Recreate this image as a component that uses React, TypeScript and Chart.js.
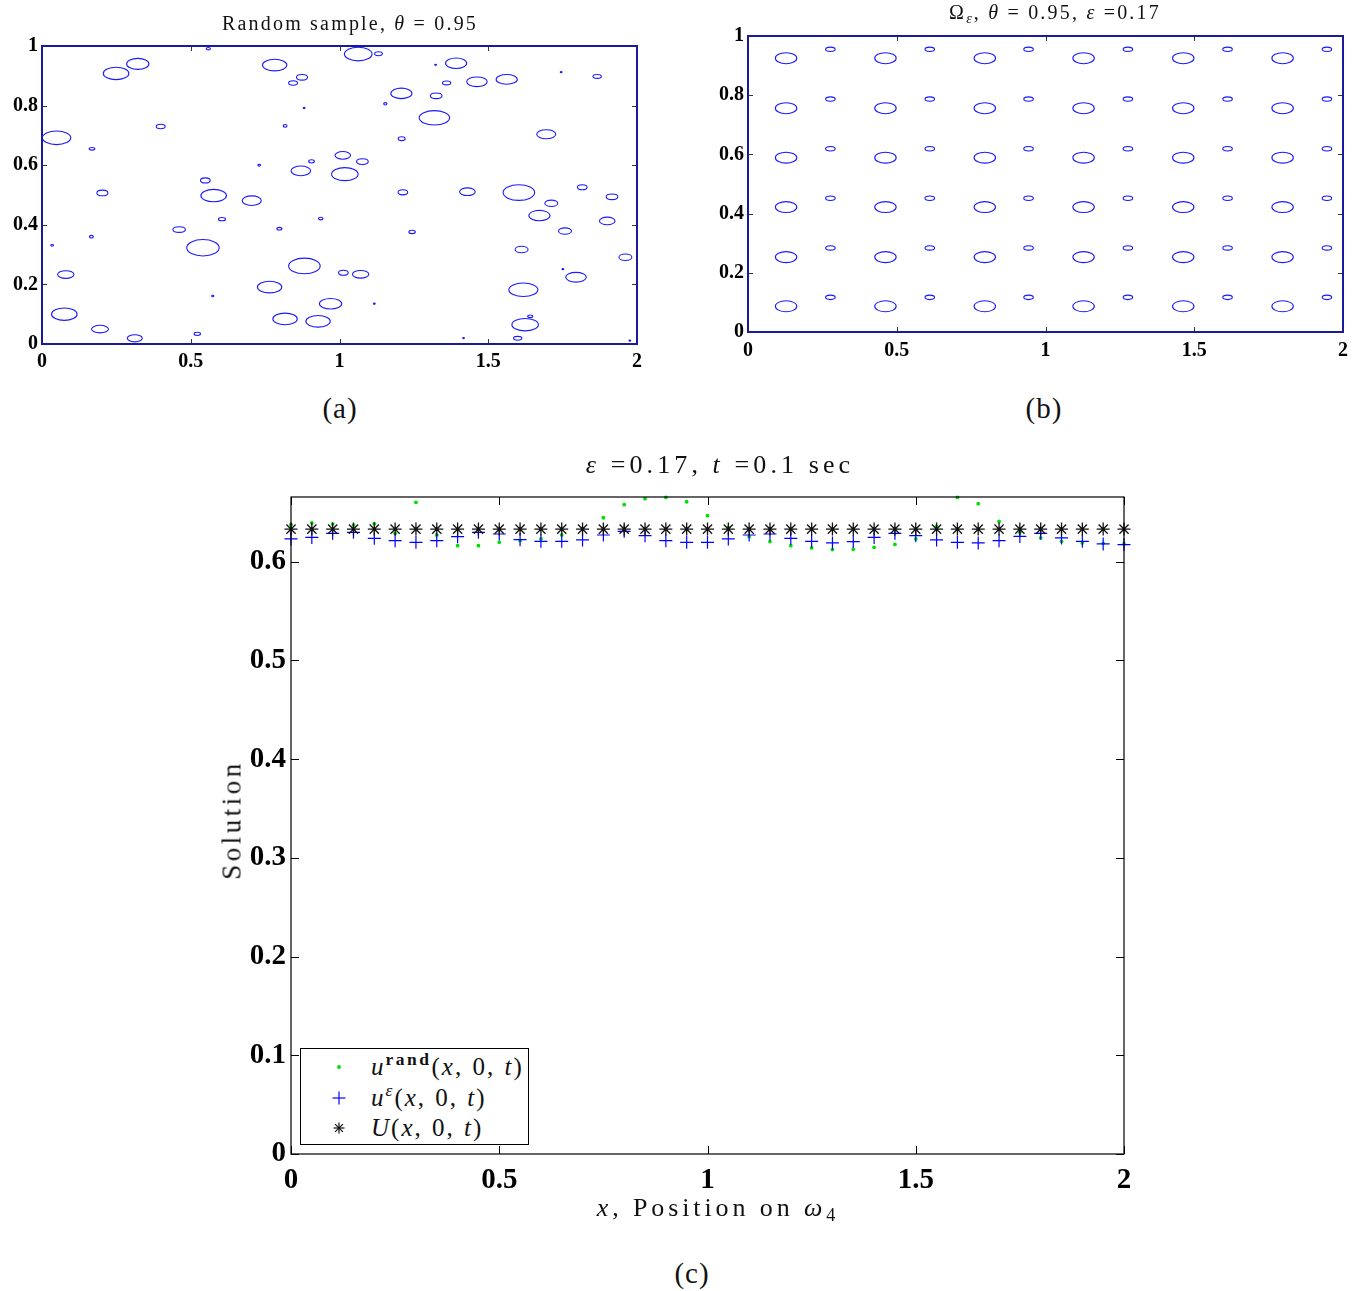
import React, { useEffect, useRef } from "react";
import Chart from "chart.js/auto";

const SERIF = "'Liberation Serif', 'Times New Roman', serif";

// ---------- (a) random inclusions: centres and semi-axes, domain units ----------
const RAND_X = [
  0.559, 0.249, 0.322, 0.782, 0.874, 0.844, 0.881, 0.399, 0.817, 0.049,
  0.168, 0.730, 0.906, 0.870, 1.011, 1.018, 0.203, 0.549, 0.577, 0.705,
  1.063, 1.131, 1.323, 1.392, 1.360, 1.462, 1.562, 1.745, 1.866, 1.208,
  1.325, 1.154, 1.319, 1.209, 1.695, 1.077, 1.213, 1.430, 1.603, 1.712,
  1.816, 1.916, 0.605, 0.461, 0.798, 0.937, 0.034, 0.166, 0.541, 0.882,
  1.013, 0.080, 0.574, 0.765, 0.970, 0.075, 0.195, 0.817, 0.928, 0.312,
  0.522, 1.244, 1.071, 1.117, 1.672, 1.758, 1.900, 1.612, 1.961, 1.751,
  1.795, 1.618, 1.641, 1.624, 1.599, 1.417, 1.976,
];
const RAND_Y = [
  0.991, 0.908, 0.940, 0.936, 0.895, 0.876, 0.792, 0.730, 0.732, 0.692,
  0.655, 0.600, 0.613, 0.581, 0.633, 0.570, 0.507, 0.549, 0.498, 0.481,
  0.973, 0.974, 0.937, 0.942, 0.876, 0.880, 0.888, 0.912, 0.898, 0.841,
  0.833, 0.806, 0.759, 0.689, 0.704, 0.612, 0.509, 0.511, 0.508, 0.472,
  0.526, 0.494, 0.419, 0.384, 0.387, 0.421, 0.331, 0.360, 0.323, 0.262,
  0.239, 0.233, 0.161, 0.191, 0.135, 0.100, 0.050, 0.084, 0.076, 0.019,
  0.034, 0.376, 0.234, 0.135, 0.431, 0.379, 0.413, 0.317, 0.291, 0.251,
  0.224, 0.182, 0.093, 0.065, 0.019, 0.020, 0.011,
];
const RAND_RX = [
  0.0070, 0.0430, 0.0375, 0.0410, 0.0185, 0.0150, 0.0030, 0.0150, 0.0065, 0.0478,
  0.0095, 0.0045, 0.0095, 0.0330, 0.0262, 0.0445, 0.0185, 0.0162, 0.0430, 0.0320,
  0.0465, 0.0130, 0.0030, 0.0355, 0.0140, 0.0345, 0.0355, 0.0030, 0.0140, 0.0355,
  0.0196, 0.0055, 0.0512, 0.0118, 0.0320, 0.0196, 0.0162, 0.0262, 0.0530, 0.0218,
  0.0162, 0.0196, 0.0118, 0.0210, 0.0085, 0.0075, 0.0045, 0.0065, 0.0545, 0.0530,
  0.0162, 0.0275, 0.0035, 0.0410, 0.0375, 0.0430, 0.0285, 0.0410, 0.0410, 0.0252,
  0.0108, 0.0108, 0.0275, 0.0030, 0.0355, 0.0218, 0.0262, 0.0218, 0.0218, 0.0030,
  0.0345, 0.0488, 0.0085, 0.0445, 0.0140, 0.0030, 0.0030,
];
const RAND_RY = [
  0.0040, 0.0208, 0.0185, 0.0195, 0.0095, 0.0075, 0.0020, 0.0075, 0.0045, 0.0228,
  0.0045, 0.0030, 0.0055, 0.0162, 0.0128, 0.0218, 0.0095, 0.0085, 0.0208, 0.0162,
  0.0228, 0.0065, 0.0020, 0.0175, 0.0065, 0.0162, 0.0162, 0.0020, 0.0065, 0.0175,
  0.0095, 0.0040, 0.0242, 0.0065, 0.0152, 0.0095, 0.0085, 0.0128, 0.0262, 0.0108,
  0.0085, 0.0095, 0.0055, 0.0095, 0.0045, 0.0045, 0.0030, 0.0045, 0.0275, 0.0262,
  0.0085, 0.0128, 0.0025, 0.0195, 0.0175, 0.0208, 0.0128, 0.0195, 0.0195, 0.0118,
  0.0055, 0.0055, 0.0128, 0.0020, 0.0175, 0.0108, 0.0128, 0.0108, 0.0108, 0.0020,
  0.0162, 0.0228, 0.0045, 0.0208, 0.0065, 0.0020, 0.0020,
];

// ---------- (b) periodic inclusions: one large and one small per cell ----------
const BIG_COLS = [0.128, 0.462, 0.796, 1.128, 1.463, 1.797];
const BIG_ROWS = [0.087, 0.253, 0.422, 0.589, 0.756, 0.925];
const SMALL_COLS = [0.277, 0.611, 0.943, 1.277, 1.612, 1.946];
const SMALL_ROWS = [0.117, 0.284, 0.452, 0.619, 0.787, 0.955];
const BIG_SEMI_AXES = [0.036, 0.0185];
const SMALL_SEMI_AXES = [0.016, 0.0075];

// ---------- (c) solution along the bottom edge ----------
const X_POS = [
  0, 0.05, 0.1, 0.15, 0.2, 0.25, 0.3, 0.35, 0.4, 0.45,
  0.5, 0.55, 0.6, 0.65, 0.7, 0.75, 0.8, 0.85, 0.9, 0.95,
  1.0, 1.05, 1.1, 1.15, 1.2, 1.25, 1.3, 1.35, 1.4, 1.45,
  1.5, 1.55, 1.6, 1.65, 1.7, 1.75, 1.8, 1.85, 1.9, 1.95, 2.0,
];
const U_RAND = [
  0.6375, 0.6392, 0.6381, 0.6371, 0.6385, 0.6287, 0.6601, 0.6270, 0.6162, 0.6162,
  0.6196, 0.6213, 0.6230, 0.6270, 0.6338, 0.6445, 0.6577, 0.6638, 0.6651, 0.6607,
  0.6466, 0.6347, 0.6253, 0.6203, 0.6162, 0.6139, 0.6122, 0.6125, 0.6145, 0.6176,
  0.6230, 0.6358, 0.6651, 0.6587, 0.6408, 0.6297, 0.6240, 0.6206, 0.6190, 0.6186, 0.6180,
];
const U_EPS = [
  0.6230, 0.6246, 0.6287, 0.6297, 0.6236, 0.6213, 0.6196, 0.6213, 0.6253, 0.6297,
  0.6280, 0.6223, 0.6206, 0.6206, 0.6220, 0.6270, 0.6307, 0.6263, 0.6213, 0.6196,
  0.6196, 0.6230, 0.6270, 0.6280, 0.6236, 0.6206, 0.6190, 0.6203, 0.6246, 0.6287,
  0.6263, 0.6220, 0.6196, 0.6190, 0.6213, 0.6256, 0.6287, 0.6240, 0.6206, 0.6180, 0.6173,
];
const U_HOM = [
  0.633, 0.633, 0.633, 0.633, 0.633, 0.633, 0.633, 0.633, 0.633, 0.633,
  0.633, 0.633, 0.633, 0.633, 0.633, 0.633, 0.633, 0.633, 0.633, 0.633,
  0.633, 0.633, 0.633, 0.633, 0.633, 0.633, 0.633, 0.633, 0.633, 0.633,
  0.633, 0.633, 0.633, 0.633, 0.633, 0.633, 0.633, 0.633, 0.633, 0.633, 0.633,
];

type Ell = { x: number; y: number; rx: number; ry: number };

// Outlines every data point of each dataset as an ellipse, sized on the axes.
const ellipsePlugin = {
  id: "ellipses",
  afterDatasetsDraw(chart: any) {
    const { ctx, scales } = chart;
    const xs = scales.x;
    const ys = scales.y;
    chart.data.datasets.forEach((ds: any) => {
      ctx.save();
      ctx.strokeStyle = ds.borderColor;
      ctx.lineWidth = ds.borderWidth;
      for (const p of ds.data as Ell[]) {
        const cx = xs.getPixelForValue(p.x);
        const cy = ys.getPixelForValue(p.y);
        const rx = Math.abs(xs.getPixelForValue(p.x + p.rx) - cx);
        const ry = Math.abs(ys.getPixelForValue(p.y + p.ry) - cy);
        ctx.beginPath();
        ctx.ellipse(cx, cy, rx, ry, 0, 0, Math.PI * 2);
        ctx.stroke();
      }
      ctx.restore();
    });
  },
};

// Box around the plot area with inward tick marks on all four sides.
function framePlugin(color: string, width: number, tickColor: string, tickLen: number) {
  return {
    id: "frame",
    afterDatasetsDraw(chart: any) {
      const { ctx, chartArea: a, scales } = chart;
      const xs = scales.x;
      const ys = scales.y;
      ctx.save();
      ctx.strokeStyle = tickColor;
      ctx.lineWidth = 1;
      ctx.beginPath();
      for (const t of xs.ticks) {
        const px = Math.round(xs.getPixelForValue(t.value)) + 0.5;
        ctx.moveTo(px, a.bottom);
        ctx.lineTo(px, a.bottom - tickLen);
        ctx.moveTo(px, a.top);
        ctx.lineTo(px, a.top + tickLen);
      }
      for (const t of ys.ticks) {
        const py = Math.round(ys.getPixelForValue(t.value)) + 0.5;
        ctx.moveTo(a.left, py);
        ctx.lineTo(a.left + tickLen, py);
        ctx.moveTo(a.right, py);
        ctx.lineTo(a.right - tickLen, py);
      }
      ctx.stroke();
      ctx.strokeStyle = color;
      ctx.lineWidth = width;
      ctx.strokeRect(a.left, a.top, a.right - a.left, a.bottom - a.top);
      ctx.restore();
    },
  };
}

const tickText = (v: any) => `${Math.round(Number(v) * 100) / 100}`;

function axis(min: number, max: number, step: number, size: number, pad: number, fixed: number, isX: boolean) {
  return {
    type: "linear",
    min,
    max,
    grid: { display: false, drawTicks: false },
    border: { display: false },
    ticks: {
      stepSize: step,
      includeBounds: false,
      autoSkip: false,
      maxRotation: 0,
      color: "#000",
      padding: pad,
      callback: tickText,
      font: { family: SERIF, size, weight: "bold" },
    },
    afterFit: (s: any) => {
      if (isX) s.height = fixed;
      else s.width = fixed;
    },
  };
}

const baseOptions = (padding: any) => ({
  responsive: false,
  animation: false,
  devicePixelRatio: 1,
  events: [],
  layout: { padding },
  plugins: { legend: { display: false }, tooltip: { enabled: false }, title: { display: false } },
});

function randomConfig() {
  const data: Ell[] = RAND_X.map((x, i) => ({ x, y: RAND_Y[i], rx: RAND_RX[i], ry: RAND_RY[i] }));
  return {
    type: "scatter",
    data: { datasets: [{ data, pointRadius: 0, borderColor: "#1a1aff", borderWidth: 1.1 }] },
    options: {
      ...baseOptions({ top: 46, right: 23, left: 0, bottom: 0 }),
      scales: { x: axis(0, 2, 0.5, 20, 6, 36, true), y: axis(0, 1, 0.2, 20, 4, 42, false) },
    },
    plugins: [ellipsePlugin, framePlugin("#1a1a9c", 2, "#333", 5)],
  };
}

function periodicConfig() {
  const big: Ell[] = [];
  const small: Ell[] = [];
  BIG_ROWS.forEach((y) => BIG_COLS.forEach((x) => big.push({ x, y, rx: BIG_SEMI_AXES[0], ry: BIG_SEMI_AXES[1] })));
  SMALL_ROWS.forEach((y) => SMALL_COLS.forEach((x) => small.push({ x, y, rx: SMALL_SEMI_AXES[0], ry: SMALL_SEMI_AXES[1] })));
  return {
    type: "scatter",
    data: {
      datasets: [
        { data: big, pointRadius: 0, borderColor: "#1a1aff", borderWidth: 1.1 },
        { data: small, pointRadius: 0, borderColor: "#1a1aff", borderWidth: 1.1 },
      ],
    },
    options: {
      ...baseOptions({ top: 36, right: 23, left: 0, bottom: 0 }),
      scales: { x: axis(0, 2, 0.5, 20, 7, 38, true), y: axis(0, 1, 0.2, 20, 4, 48, false) },
    },
    plugins: [ellipsePlugin, framePlugin("#1a1a9c", 2, "#333", 5)],
  };
}

function solutionConfig() {
  const pts = (vals: number[]) => X_POS.map((x, i) => ({ x, y: vals[i] }));
  return {
    type: "scatter",
    data: {
      datasets: [
        {
          label: "U(x,0,t)",
          data: pts(U_HOM),
          pointStyle: "star",
          pointRadius: 6.5,
          borderColor: "#111",
          backgroundColor: "#111",
          borderWidth: 1.3,
          order: 1,
          clip: false,
        },
        {
          label: "u^eps(x,0,t)",
          data: pts(U_EPS),
          pointStyle: "cross",
          pointRadius: 6.5,
          borderColor: "#0000ff",
          backgroundColor: "#0000ff",
          borderWidth: 1.2,
          order: 2,
          clip: false,
        },
        {
          label: "u^rand(x,0,t)",
          data: pts(U_RAND),
          pointStyle: "circle",
          pointRadius: 1.9,
          borderWidth: 0,
          borderColor: "#00e000",
          backgroundColor: "#00e000",
          order: 3,
          clip: false,
        },
      ],
    },
    options: {
      ...baseOptions({ top: 40, right: 26, left: 0, bottom: 0 }),
      scales: { x: axis(0, 2, 0.5, 29, 9, 56, true), y: axis(0, 0.6655, 0.1, 29, 5, 141, false) },
    },
    plugins: [framePlugin("#000", 1.2, "#000", 8)],
  };
}

function ChartCanvas(props: { make: () => any; left: number; top: number; width: number; height: number }) {
  const ref = useRef<HTMLCanvasElement>(null);
  useEffect(() => {
    const chart = new Chart(ref.current as HTMLCanvasElement, props.make());
    return () => chart.destroy();
  }, []);
  return (
    <canvas
      ref={ref}
      width={props.width}
      height={props.height}
      style={{ position: "absolute", left: props.left, top: props.top, width: props.width, height: props.height }}
    />
  );
}

function Text(props: {
  x: number;
  y: number;
  size: number;
  rotate?: number;
  spacing?: number;
  words?: number;
  children: any;
}) {
  return (
    <div
      style={{
        position: "absolute",
        left: props.x,
        top: props.y,
        transform: `translate(-50%, -50%) rotate(${props.rotate || 0}deg)`,
        whiteSpace: "nowrap",
        fontSize: props.size,
        letterSpacing: props.spacing ?? 0,
        wordSpacing: props.words ?? 0,
        lineHeight: 1,
        color: "#111",
      }}
    >
      {props.children}
    </div>
  );
}

const sub: React.CSSProperties = { fontSize: "0.7em", verticalAlign: "-0.3em", lineHeight: 0 };
const sup: React.CSSProperties = { fontSize: "0.7em", verticalAlign: "0.6em", lineHeight: 0 };

function Legend() {
  const row = (top: number, marker: any, label: any) => (
    <div style={{ position: "absolute", left: 0, top, height: 30, width: 260 }}>
      <svg width={20} height={20} style={{ position: "absolute", left: 28, top: 5 }}>
        {marker}
      </svg>
      <div
        style={{
          position: "absolute",
          left: 70,
          top: 2,
          fontSize: 25,
          letterSpacing: 2,
          wordSpacing: 1,
          whiteSpace: "nowrap",
          lineHeight: "26px",
          color: "#111",
        }}
      >
        {label}
      </div>
    </div>
  );
  return (
    <div
      style={{
        position: "absolute",
        left: 300,
        top: 1048,
        width: 227,
        height: 95,
        border: "1px solid #000",
        background: "#fff",
      }}
    >
      {row(3, <circle cx={10} cy={10} r={1.9} fill="#00e000" />, (
        <span>
          <i>u</i>
          <span style={{ ...sup, fontWeight: "bold", fontStyle: "normal", letterSpacing: 2.5 }}>rand</span>
          (<i>x</i>, 0, <i>t</i>)
        </span>
      ))}
      {row(34, (
        <g stroke="#0000ff" strokeWidth={1.2}>
          <line x1={3.5} y1={10} x2={16.5} y2={10} />
          <line x1={10} y1={3.5} x2={10} y2={16.5} />
        </g>
      ), (
        <span>
          <i>u</i>
          <span style={sup}>
            <i>ε</i>
          </span>
          (<i>x</i>, 0, <i>t</i>)
        </span>
      ))}
      {row(64, (
        <g stroke="#111" strokeWidth={1.2}>
          <line x1={4.5} y1={10} x2={15.5} y2={10} />
          <line x1={10} y1={4.5} x2={10} y2={15.5} />
          <line x1={6.1} y1={6.1} x2={13.9} y2={13.9} />
          <line x1={6.1} y1={13.9} x2={13.9} y2={6.1} />
        </g>
      ), (
        <span>
          <i>U</i>(<i>x</i>, 0, <i>t</i>)
        </span>
      ))}
    </div>
  );
}

export default function App() {
  return (
    <div
      style={{
        position: "absolute",
        left: 0,
        top: 0,
        width: 1366,
        height: 1291,
        background: "#fff",
        overflow: "hidden",
        fontFamily: SERIF,
      }}
    >
      <ChartCanvas make={randomConfig} left={0} top={0} width={660} height={380} />
      <ChartCanvas make={periodicConfig} left={700} top={0} width={666} height={370} />
      <ChartCanvas make={solutionConfig} left={150} top={457} width={1000} height={753} />

      <Text x={350} y={23} size={20} spacing={2.2} words={0}>
        Random sample, <i>θ</i> = 0.95
      </Text>
      <Text x={1055} y={12} size={20} spacing={2.2} words={0}>
        Ω<span style={sub}><i>ε</i></span>, <i>θ</i> = 0.95, <i>ε</i> =0.17
      </Text>
      <Text x={340} y={408} size={29} spacing={1}>(a)</Text>
      <Text x={1044} y={408} size={29} spacing={1}>(b)</Text>

      <Text x={720} y={465} size={26} spacing={4.1} words={0}>
        <i>ε</i> =0.17, <i>t</i> =0.1 sec
      </Text>
      <Text x={232} y={820} size={27} rotate={-90} spacing={3.5}>
        Solution
      </Text>
      <Text x={718} y={1208} size={26} spacing={3.9} words={0}>
        <i>x</i>, Position on <i>ω</i>
        <span style={sub}>4</span>
      </Text>
      <Text x={692} y={1273} size={29} spacing={1}>(c)</Text>

      <Legend />
    </div>
  );
}
